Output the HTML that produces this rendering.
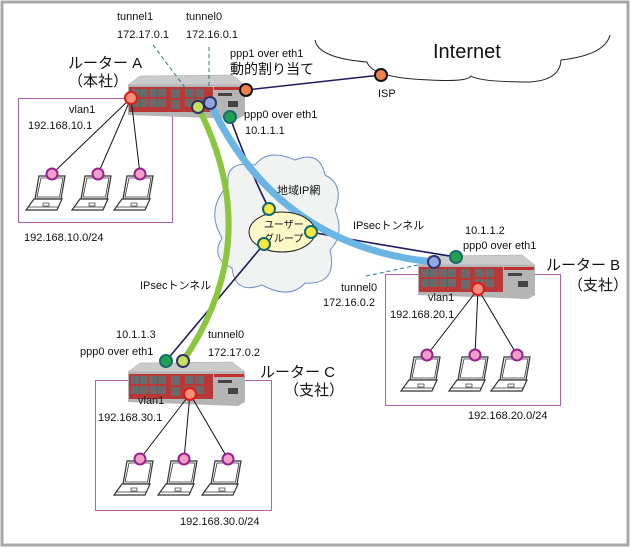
<!DOCTYPE html>
<html><head><meta charset="utf-8"><style>
body{margin:0;background:#fff}
svg{display:block}
text{font-family:"Liberation Sans","Noto Sans CJK JP",sans-serif;font-size:11px;fill:#111}
.j{font-size:15px}
</style></head><body>
<svg width="631" height="548" viewBox="0 0 631 548" xmlns="http://www.w3.org/2000/svg">
<defs>
<g id="lap">
 <path d="M-11,0 L15,0 L11,23 L-15,23 Z" fill="#fff" stroke="#333" stroke-width="1.2"/>
 <path d="M-9,2 L13,2 L9.5,21 L-13,21 Z" fill="none" stroke="#333" stroke-width="0.8"/>
 <path d="M-16,23 L12,23 L7,34 L-24,34 Z" fill="#fff" stroke="#333" stroke-width="1.2"/>
 <path d="M-22,31 L9,31" stroke="#333" stroke-width="0.8"/>
 <rect x="-7" y="27" width="6" height="3" fill="none" stroke="#333" stroke-width="0.7"/>
</g>
<g id="rt">
 <path d="M0,0 L12,-9 L104,-10 L117,0 Z" fill="#cbcbcb" stroke="#aaa" stroke-width="0.5"/>
 <path d="M0,0 L117,0 L117,30 L110,34 L0,30 Z" fill="#b5b5b5"/>
 <rect x="1" y="2" width="84" height="25" fill="#b83838"/>
 <g fill="#6a6a6a">
  <rect x="3" y="4" width="8" height="8"/><rect x="12" y="4" width="8" height="8"/><rect x="21" y="4" width="8" height="8"/><rect x="30" y="4" width="8" height="8"/>
  <rect x="3" y="14" width="8" height="8"/><rect x="12" y="14" width="8" height="8"/><rect x="21" y="14" width="8" height="8"/><rect x="30" y="14" width="8" height="8"/>
  <rect x="43" y="4" width="9" height="9"/><rect x="43" y="15" width="9" height="9"/>
  <rect x="57" y="4" width="9" height="8"/><rect x="67" y="4" width="9" height="8"/><rect x="57" y="14" width="9" height="8"/><rect x="67" y="14" width="9" height="8"/>
 </g>
 <g fill="#444"><rect x="90" y="8" width="14" height="3"/><rect x="100" y="16" width="10" height="6"/></g>
 <rect x="86" y="2" width="30" height="3" fill="#c03030"/>
</g>
</defs>
<rect x="2" y="2" width="626" height="543" fill="#fff" stroke="#a8a8a8" stroke-width="3"/>

<path d="M315,40 Q318,58 367,62 Q372,78 430,80 Q468,82 471,76 Q480,82 530,82 Q560,80 561,60 Q605,55 610,35" fill="none" stroke="#222" stroke-width="1"/>
<text x="433" y="58" style="font-size:20px">Internet</text>

<path d="M228,185 Q225,160 255,165 Q268,148 295,160 Q320,150 325,175 Q345,185 335,210 Q345,235 330,250 Q338,285 305,283 Q290,300 262,285 Q235,295 232,268 Q210,258 222,238 Q205,210 228,185 Z" fill="#f1f3f3" stroke="#6f8fc0" stroke-width="1"/>

<rect x="18.5" y="98.5" width="154" height="124" fill="none" stroke="#b560b0" stroke-width="1"/>
<rect x="385.5" y="274.5" width="175" height="131" fill="none" stroke="#b560b0" stroke-width="1"/>
<rect x="95.5" y="380.5" width="176" height="130" fill="none" stroke="#b560b0" stroke-width="1"/>

<use href="#rt" x="128" y="85"/>
<use href="#rt" x="418" y="265"/>
<use href="#rt" x="128" y="372"/>

<g stroke="#2a7a8a" stroke-width="1" stroke-dasharray="4,3">
 <line x1="153" y1="45" x2="198" y2="105"/>
 <line x1="209" y1="47" x2="209" y2="88"/>
 <line x1="366" y1="276" x2="418" y2="265"/>
</g>

<line x1="246" y1="90" x2="381" y2="75" stroke="#1e1a60" stroke-width="1.5"/>

<g stroke="#1e1a60" stroke-width="1.6" fill="none">
 <path d="M230,117 Q245,160 269,209"/>
 <path d="M311,232 Q380,245 456,257"/>
 <line x1="264" y1="244" x2="166" y2="361"/>
</g>
<path d="M210,103 Q278,247 434,262" fill="none" stroke="#6bb5e5" stroke-width="7"/>
<path d="M198,107 Q266,240 183,361" fill="none" stroke="#8cc63f" stroke-width="6"/>

<ellipse cx="282" cy="232" rx="33" ry="20" fill="#fdf8c8" stroke="#222" stroke-width="1"/>
<text x="264" y="228" style="font-size:10px">ユーザー</text>
<text x="264" y="242" style="font-size:10px">グループ</text>

<g stroke="#111" stroke-width="1">
 <line x1="131" y1="98" x2="52" y2="174"/><line x1="131" y1="98" x2="98" y2="174"/><line x1="131" y1="98" x2="140" y2="174"/>
 <line x1="478" y1="289" x2="427" y2="355"/><line x1="478" y1="289" x2="475" y2="355"/><line x1="478" y1="289" x2="517" y2="355"/>
 <line x1="190" y1="394" x2="140" y2="459"/><line x1="190" y1="394" x2="184" y2="459"/><line x1="190" y1="394" x2="228" y2="459"/>
</g>

<use href="#lap" x="50" y="176"/><use href="#lap" x="96" y="176"/><use href="#lap" x="138" y="176"/>
<use href="#lap" x="425" y="357"/><use href="#lap" x="473" y="357"/><use href="#lap" x="515" y="357"/>
<use href="#lap" x="138" y="461"/><use href="#lap" x="182" y="461"/><use href="#lap" x="226" y="461"/>
<g fill="#f0a0c8" stroke="#9a2090" stroke-width="2">
 <circle cx="52" cy="174" r="5.5"/><circle cx="98" cy="174" r="5.5"/><circle cx="140" cy="174" r="5.5"/>
 <circle cx="427" cy="355" r="5.5"/><circle cx="475" cy="355" r="5.5"/><circle cx="517" cy="355" r="5.5"/>
 <circle cx="140" cy="459" r="5.5"/><circle cx="184" cy="459" r="5.5"/><circle cx="228" cy="459" r="5.5"/>
</g>

<g stroke-width="2">
 <circle cx="131" cy="98" r="6" fill="#f5907a" stroke="#e01818"/>
 <circle cx="478" cy="289" r="6" fill="#f5907a" stroke="#e01818"/>
 <circle cx="190" cy="394" r="6" fill="#f5907a" stroke="#e01818"/>
 <circle cx="246" cy="90" r="6" fill="#f08050" stroke="#111"/>
 <circle cx="381" cy="75" r="6" fill="#f08050" stroke="#111"/>
 <circle cx="198" cy="107" r="6" fill="#c8e060" stroke="#336"/>
 <circle cx="183" cy="361" r="6" fill="#c8e060" stroke="#336"/>
 <circle cx="210" cy="103" r="6" fill="#8fa8e0" stroke="#336"/>
 <circle cx="434" cy="262" r="6" fill="#8fa8e0" stroke="#336"/>
 <circle cx="230" cy="117" r="6" fill="#20a050" stroke="#1a6a70"/>
 <circle cx="456" cy="257" r="6" fill="#20a050" stroke="#1a6a70"/>
 <circle cx="166" cy="361" r="6" fill="#20a050" stroke="#1a6a70"/>
 <circle cx="269" cy="209" r="6" fill="#f8e840" stroke="#106a70"/>
 <circle cx="311" cy="232" r="6" fill="#f8e840" stroke="#106a70"/>
 <circle cx="264" cy="244" r="6" fill="#f8e840" stroke="#106a70"/>
</g>

<text x="117" y="20">tunnel1</text><text x="117" y="38">172.17.0.1</text>
<text x="186" y="20">tunnel0</text><text x="186" y="38">172.16.0.1</text>
<text x="230" y="57">ppp1 over eth1</text>
<text x="230" y="74" style="font-size:14px">動的割り当て</text>
<text x="68" y="68" class="j">ルーター A</text>
<text x="68" y="86" class="j">（本社）</text>
<text x="69" y="113">vlan1</text><text x="28" y="129">192.168.10.1</text>
<text x="24" y="241">192.168.10.0/24</text>
<text x="244" y="118">ppp0 over eth1</text><text x="245" y="134">10.1.1.1</text>
<text x="378" y="97">ISP</text>
<text x="277" y="194">地域IP網</text>
<text x="353" y="229">IPsecトンネル</text>
<text x="465" y="234">10.1.1.2</text><text x="463" y="249">ppp0 over eth1</text>
<text x="546" y="270" class="j">ルーター B</text>
<text x="568" y="290" class="j">（支社）</text>
<text x="341" y="291">tunnel0</text><text x="323" y="306">172.16.0.2</text>
<text x="428" y="301">vlan1</text><text x="390" y="318">192.168.20.1</text>
<text x="468" y="419">192.168.20.0/24</text>
<text x="140" y="289">IPsecトンネル</text>
<text x="116" y="338">10.1.1.3</text><text x="80" y="355">ppp0 over eth1</text>
<text x="208" y="338">tunnel0</text><text x="208" y="356">172.17.0.2</text>
<text x="260" y="377" class="j">ルーター C</text>
<text x="284" y="395" class="j">（支社）</text>
<text x="138" y="404">vlan1</text><text x="98" y="421">192.168.30.1</text>
<text x="180" y="525">192.168.30.0/24</text>
</svg>
</body></html>
